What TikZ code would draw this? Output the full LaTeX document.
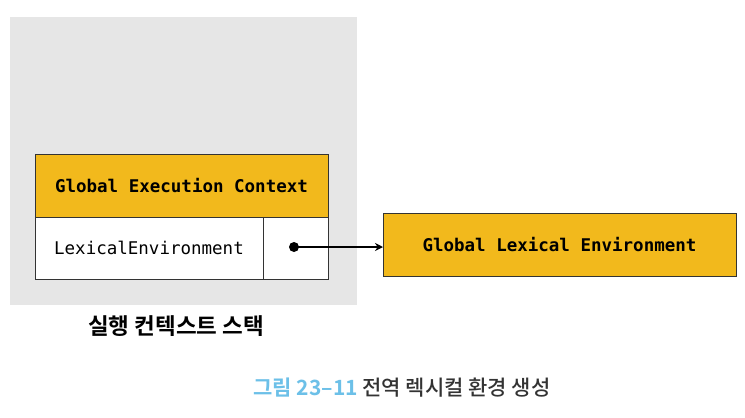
\documentclass[tikz,border=0pt]{standalone}
\usepackage{fontspec}
\setmonofont{DejaVu Sans Mono}
\newfontfamily\krbold{Noto Sans CJK KR Bold}
\newfontfamily\krcap{Noto Sans CJK KR Medium}
\usetikzlibrary{arrows.meta}
\definecolor{stackgray}{HTML}{E6E6E6}
\definecolor{gold}{HTML}{F2B91C}
\definecolor{capblue}{HTML}{6CC0E8}
\definecolor{capgray}{HTML}{333333}
\begin{document}
\begin{tikzpicture}[x=1pt,y=-1pt,
  cell/.style={draw=black!80, line width=0.8pt, inner sep=0pt, outer sep=0pt},
  goldcell/.style={cell, fill=gold},
  whitecell/.style={cell, fill=white},
  monob/.style={font=\ttfamily\bfseries\fontsize{17.5}{20}\selectfont},
  monor/.style={font=\ttfamily\fontsize{17.5}{20}\selectfont},
]
\useasboundingbox (0,0) rectangle (745,418);
\fill[white] (0,0) rectangle (745,418);
\node[fill=stackgray, minimum width=347pt, minimum height=288pt, inner sep=0pt, anchor=north west] (stack) at (10,17) {};
\node[goldcell, minimum width=293pt, minimum height=63pt, anchor=north west, monob] (gec) at (35,154) {Global Execution Context};
\node[whitecell, minimum width=228pt, minimum height=62pt, anchor=north west, monor] (lexname) at (35,217) {LexicalEnvironment};
\node[whitecell, minimum width=65pt, minimum height=62pt, anchor=north west] (lexref) at (263,217) {};
\node[goldcell, minimum width=353pt, minimum height=63pt, anchor=north west, monob] (gle) at (383,213) {Global Lexical Environment};
\coordinate (dot) at (294,247);
\fill (dot) circle (5pt);
\draw[line width=1.3pt, -{Stealth[length=8pt,width=8pt]}] (dot) -- (gle.west |- dot);
\node[font=\krbold\fontsize{22.5}{26}\selectfont] (stacklabel) at (176,326) {실행 컨텍스트 스택};
\node[font=\krcap\fontsize{21}{25}\selectfont, text=capgray] (caption) at (402,388) {{\krbold\color{capblue}그림 23–11} 전역 렉시컬 환경 생성};
\end{tikzpicture}
\end{document}
